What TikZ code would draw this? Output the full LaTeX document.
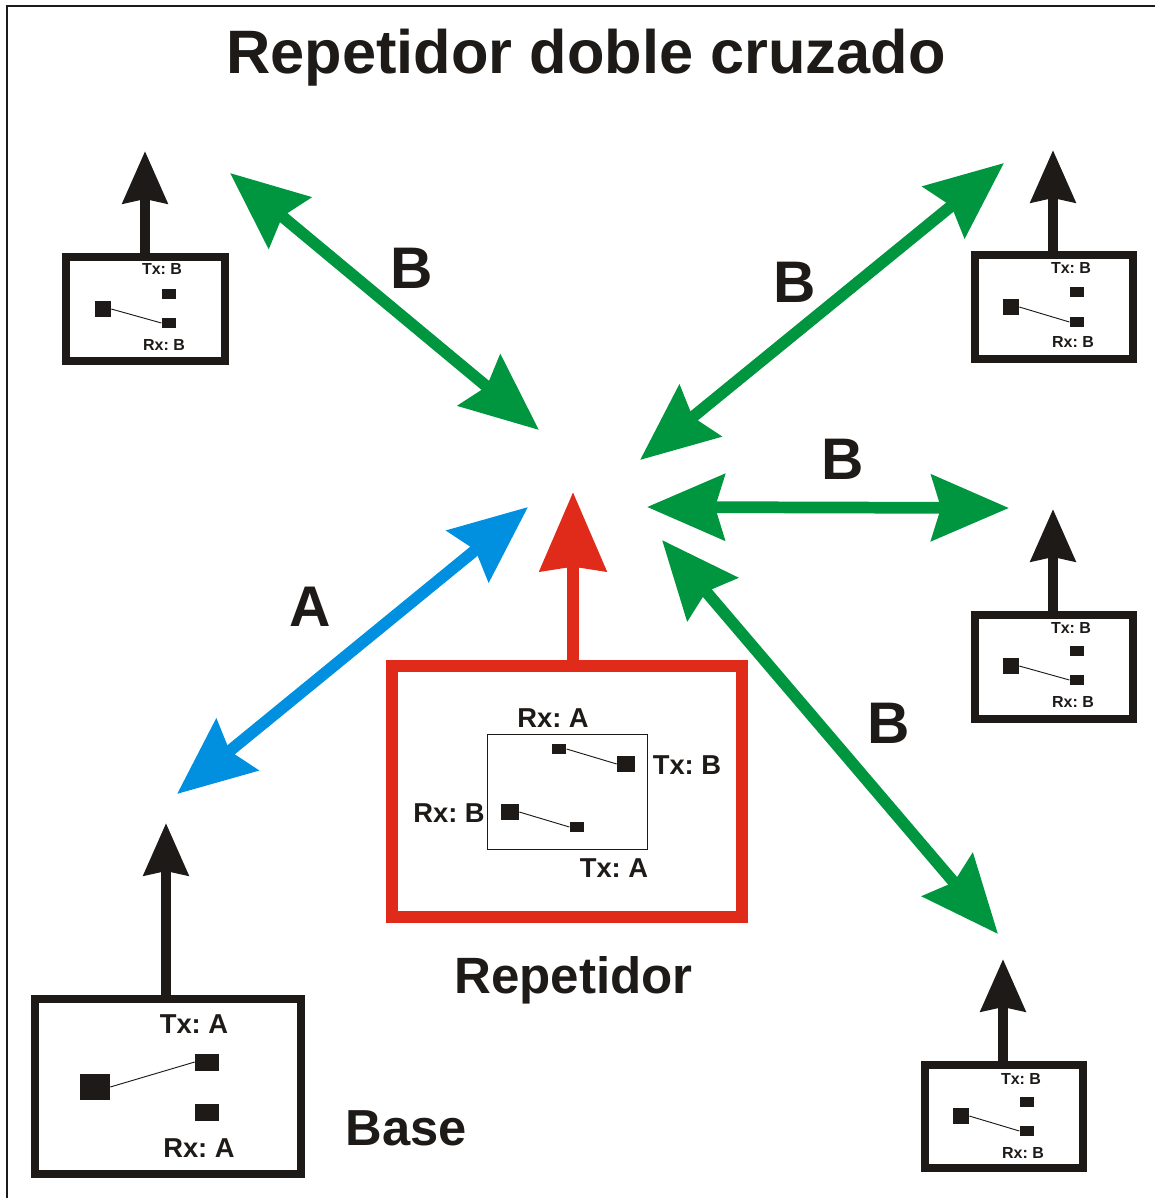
\documentclass[tikz,border=0pt]{standalone}
\usepackage{fontspec}
\setmainfont{Liberation Sans}
\frenchspacing
\usetikzlibrary{arrows.meta}
\definecolor{ink}{HTML}{1D1A18}
\definecolor{vgreen}{HTML}{009640}
\definecolor{vblue}{HTML}{0090DF}
\definecolor{vred}{HTML}{E02B1A}
\begin{document}
\begin{tikzpicture}[x=0.75pt,y=-0.75pt,
    wire/.style={draw=ink,line width=0.7pt},
    box/.style={draw=ink,line width=6pt,miter limit=10},
    bigpad/.style={fill=ink,inner sep=0pt,minimum width=12pt,minimum height=12pt},
    smallpad/.style={fill=ink,inner sep=0pt,minimum width=11pt,minimum height=7.5pt},
    tiny/.style={font=\bfseries\fontsize{12}{13}\selectfont,text=ink,inner sep=0pt},
    mid/.style={font=\bfseries\fontsize{20.5}{21}\selectfont,text=ink,inner sep=0pt},
    huge/.style={font=\bfseries\fontsize{44}{46}\selectfont,text=ink,inner sep=0pt},
    up/.style={draw=ink,line width=7.5pt,-{Stealth[length=39pt,width=33pt,inset=3pt,fill=ink]}},
    link/.style={line width=8.8pt,{Stealth[length=58pt,width=49pt,inset=7pt]}-{Stealth[length=58pt,width=49pt,inset=7pt]}}]
\useasboundingbox (0,0) rectangle (1155,1198);

\coordinate (f1) at (7,1198);
\coordinate (f2) at (7,6);
\coordinate (f3) at (1155,6);
\draw[ink,line width=1.5pt] (f1) -- (f2) -- (f3);

\node[huge,font=\bfseries\fontsize{46}{48}\selectfont] (title) at (586,58) {Repetidor doble cruzado};

% green and blue links
\coordinate (g1) at (230,173);
\coordinate (g2) at (539,430);
\coordinate (g3) at (1004,163);
\coordinate (g4) at (640,460);
\coordinate (g5) at (647,507);
\coordinate (g6) at (1009,508);
\coordinate (g7) at (662,540);
\coordinate (g8) at (998,934);
\coordinate (b1) at (528,507);
\coordinate (b2) at (177,794);
\draw[link,vgreen] (g1) -- (g2);
\draw[link,vgreen] (g3) -- (g4);
\draw[link,vgreen] (g5) -- (g6);
\draw[link,vgreen] (g7) -- (g8);
\draw[link,vblue] (b1) -- (b2);

\node[huge] (lb1) at (411.5,268) {B};
\node[huge] (lb2) at (794.5,282) {B};
\node[huge] (lb3) at (842.5,459) {B};
\node[huge] (lb4) at (888.5,723) {B};
\node[huge,font=\bfseries\fontsize{43}{45}\selectfont] (la) at (310,607) {A};

% repeater
\coordinate (r1) at (392,666);
\coordinate (r2) at (742,917);
\coordinate (r3) at (487,734);
\coordinate (r4) at (647,849);
\coordinate (r5) at (573,660);
\coordinate (r6) at (573,492);
\draw[vred,line width=9pt,-{Stealth[length=59pt,width=49pt,inset=3pt]}] (r5) -- (r6);
\draw[vred,line width=9pt] (r1) rectangle (r2);
\draw[ink,line width=0.7pt] (r3) rectangle (r4);
\node[smallpad] (rc1) at (559,749) {};
\node[bigpad,minimum width=13.5pt] (rc2) at (626,764) {};
\node[bigpad,minimum width=13.5pt] (rc3) at (510,812) {};
\node[smallpad] (rc4) at (577,827) {};
\draw[wire] (rc1.east) -- (rc2.west);
\draw[wire] (rc3.east) -- (rc4.west);
\node[mid] (rt1) at (553,718) {Rx: A};
\node[mid] (rt2) at (687,765) {Tx: B};
\node[mid] (rt3) at (449,813) {Rx: B};
\node[mid] (rt4) at (614,868) {Tx: A};
\node[huge,font=\bfseries\fontsize{38.3}{40}\selectfont] (rname) at (573.5,980) {Repetidor};

% base
\coordinate (a1) at (35,999);
\coordinate (a2) at (301,1174);
\coordinate (a3) at (166,997);
\coordinate (a4) at (166,823);
\draw[box] (a1) rectangle (a2);
\draw[up] (a3) -- (a4);
\node[bigpad,minimum width=22.5pt,minimum height=19.5pt] (ac1) at (95,1087) {};
\node[smallpad,minimum width=18pt,minimum height=12.75pt] (ac2) at (207,1062) {};
\node[smallpad,minimum width=18pt,minimum height=12.75pt] (ac3) at (207,1112) {};
\draw[wire] (ac1.east) -- (ac2.west);
\node[mid] (at1) at (194,1024) {Tx: A};
\node[mid] (at2) at (199,1148) {Rx: A};
\node[huge,font=\bfseries\fontsize{38}{40}\selectfont] (aname) at (406.5,1128) {Base};

% stations
\coordinate (s1) at (66,257);
\coordinate (s2) at (225,361);
\coordinate (s3) at (145,253);
\coordinate (s4) at (145,151);
\draw[box] (s1) rectangle (s2);
\draw[up] (s3) -- (s4);
\node[bigpad] (c1) at (103,309) {};
\node[smallpad] (c2) at (169,294) {};
\node[smallpad] (c3) at (169,323) {};
\draw[wire] (c1.east) -- (c3.west);
\node[tiny] (t1) at (162,269) {Tx: B};
\node[tiny] (t2) at (164,345) {Rx: B};

\coordinate (s5) at (975,255);
\coordinate (s6) at (1133,359);
\coordinate (s7) at (1053,251);
\coordinate (s8) at (1053,150);
\draw[box] (s5) rectangle (s6);
\draw[up] (s7) -- (s8);
\node[bigpad] (c4) at (1011,307) {};
\node[smallpad] (c5) at (1077,292) {};
\node[smallpad] (c6) at (1077,322) {};
\draw[wire] (c4.east) -- (c6.west);
\node[tiny] (t3) at (1071,268) {Tx: B};
\node[tiny] (t4) at (1073,342) {Rx: B};

\coordinate (s9) at (975,615);
\coordinate (s10) at (1133,719);
\coordinate (s11) at (1053,611);
\coordinate (s12) at (1053,509);
\draw[box] (s9) rectangle (s10);
\draw[up] (s11) -- (s12);
\node[bigpad] (c7) at (1011,666) {};
\node[smallpad] (c8) at (1077,651) {};
\node[smallpad] (c9) at (1077,680) {};
\draw[wire] (c7.east) -- (c9.west);
\node[tiny] (t5) at (1071,628) {Tx: B};
\node[tiny] (t6) at (1073,702) {Rx: B};

\coordinate (s13) at (925,1065);
\coordinate (s14) at (1083,1168);
\coordinate (s15) at (1003,1061);
\coordinate (s16) at (1003,959);
\draw[box] (s13) rectangle (s14);
\draw[up] (s15) -- (s16);
\node[bigpad] (c10) at (961,1116) {};
\node[smallpad] (c11) at (1027,1102) {};
\node[smallpad] (c12) at (1027,1131) {};
\draw[wire] (c10.east) -- (c12.west);
\node[tiny] (t7) at (1021,1079) {Tx: B};
\node[tiny] (t8) at (1023,1153) {Rx: B};
\end{tikzpicture}
\end{document}
